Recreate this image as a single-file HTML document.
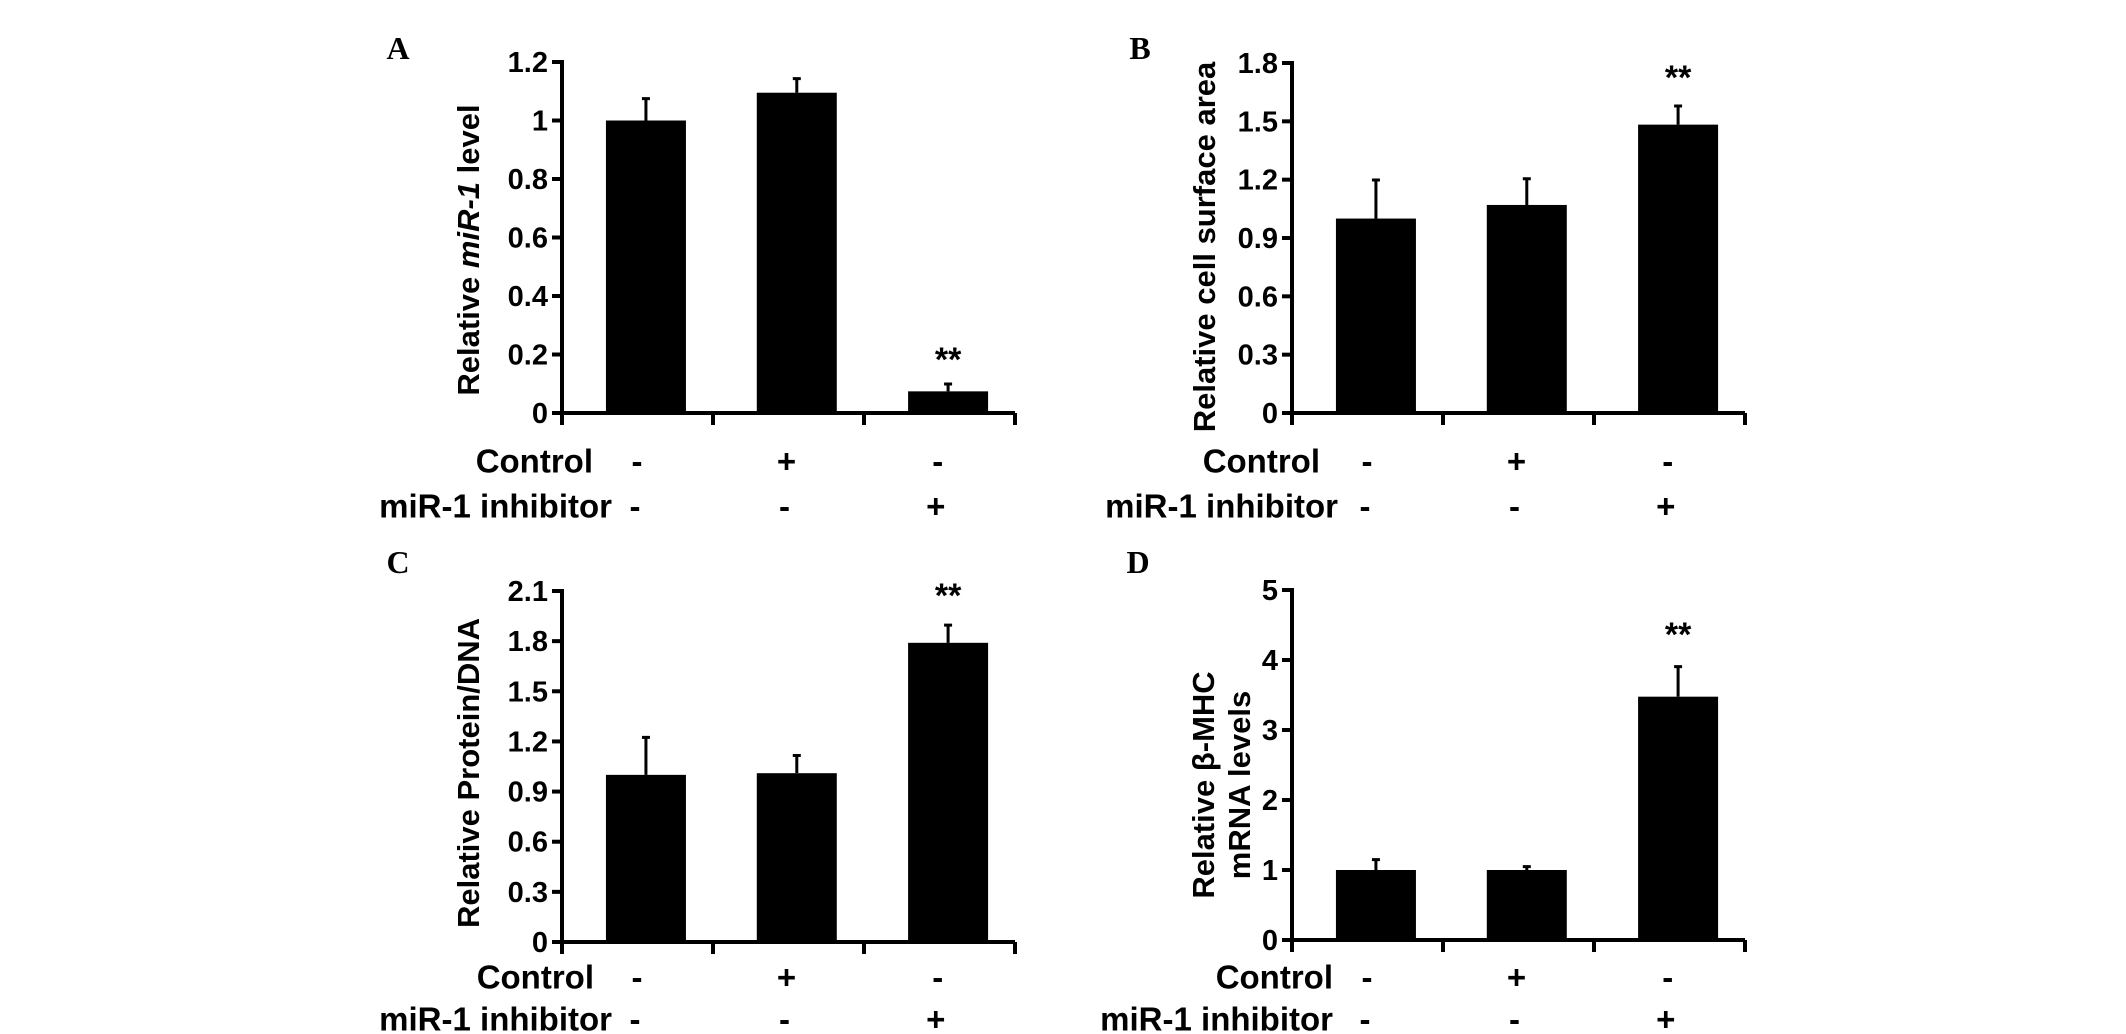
<!DOCTYPE html>
<html><head><meta charset="utf-8"><style>
html,body{margin:0;padding:0;background:#fff;}
svg{display:block;}
text{font-family:"Liberation Sans",Arial,sans-serif;font-weight:bold;fill:#000;}
.pl{font-family:"Liberation Serif",serif;font-size:32px;}
</style></head><body>
<svg id="fig" width="2126" height="1034" viewBox="0 0 2126 1034"></svg>
<script>
const categories = ["Control only", "Control +", "miR-1 inhibitor +"];
const controlSigns = ["-", "+", "-"];
const inhibitorSigns = ["-", "-", "+"];
const valuesA = [1.0, 1.095, 0.074];
const errorsA = [0.075, 0.048, 0.025];
const ticksA = [0, 0.2, 0.4, 0.6, 0.8, 1, 1.2];
const tickLabelsA = ["0", "0.2", "0.4", "0.6", "0.8", "1", "1.2"];
const valuesB = [1.0, 1.07, 1.483];
const errorsB = [0.198, 0.135, 0.096];
const ticksB = [0, 0.3, 0.6, 0.9, 1.2, 1.5, 1.8];
const tickLabelsB = ["0", "0.3", "0.6", "0.9", "1.2", "1.5", "1.8"];
const valuesC = [1.0, 1.01, 1.79];
const errorsC = [0.224, 0.106, 0.106];
const ticksC = [0, 0.3, 0.6, 0.9, 1.2, 1.5, 1.8, 2.1];
const tickLabelsC = ["0", "0.3", "0.6", "0.9", "1.2", "1.5", "1.8", "2.1"];
const valuesD = [1.0, 1.0, 3.476];
const errorsD = [0.148, 0.048, 0.43];
const ticksD = [0, 1, 2, 3, 4, 5];
const tickLabelsD = ["0", "1", "2", "3", "4", "5"];
const sigFlags = [[false,false,true],[false,false,true],[false,false,true],[false,false,true]];

const NS = "http://www.w3.org/2000/svg";
const svg = document.getElementById("fig");
function mk(tag, attrs, parent, txt){
  const e = document.createElementNS(NS, tag);
  for (const k in attrs) e.setAttribute(k, attrs[k]);
  if (txt !== undefined) e.textContent = txt;
  (parent || svg).appendChild(e);
  return e;
}

function panel(p){
  const g = mk("g", {});
  
  
  const span = 453;
  const yMax = p.ticks[p.ticks.length-1];
  const yScale = v => p.y0 - (v / yMax) * (p.y0 - p.yTop);
  const xScale = f => p.ax + f * span;
  const pl = mk("text", {x: p.lx, y: p.ly, class: "pl", "dominant-baseline": "central", "text-anchor": "middle"}, g, p.id);
  
  
  const starts = [0.097, 0.43, 0.764];
  const bw = 80;
  p.values.forEach((v, i) => {
    const x = xScale(starts[i]);
    const y = yScale(v);
    const r = mk("rect", {x: x, y: y, width: bw, height: p.y0 - y, fill: "#000"}, g);
    
    
    const cx = x + bw/2;
    const ye = yScale(v + p.errors[i]);
    const el = mk("path", {d: `M${cx},${y} V${ye} M${cx-4},${ye} H${cx+4}`, stroke: "#000", "stroke-width": 3, fill: "none"}, g);
    
    
    if (p.sig[i]) {
      const s = mk("text", {x: cx, y: p.sigY, "text-anchor": "middle", "dominant-baseline": "central", "font-size": 34}, g, "**");
      
      
    }
  });
  const ya = mk("line", {x1: p.ax, y1: p.yTop - 2, x2: p.ax, y2: p.y0 + 12, stroke: "#000", "stroke-width": 4}, g);
  
  
  const xa = mk("line", {x1: p.ax - 10, y1: p.y0, x2: p.ax + span, y2: p.y0, stroke: "#000", "stroke-width": 4}, g);
  
  
  [1/3, 2/3, 1].forEach(f => {
    const t = mk("line", {x1: xScale(f), y1: p.y0, x2: xScale(f), y2: p.y0 + 12, stroke: "#000", "stroke-width": 4}, g);
    
    
  });
  p.ticks.forEach((t, i) => {
    const y = yScale(t);
    const tl = mk("line", {x1: p.ax - 10, y1: y, x2: p.ax, y2: y, stroke: "#000", "stroke-width": 4}, g);
    
    
    const lb = mk("text", {x: p.ax - 14, y: y + 1, "text-anchor": "end", "dominant-baseline": "central", "font-size": 29}, g, p.tickLabels[i]);
    
    
  });
  p.titles.forEach(tt => {
    const t = mk("text", {transform: `translate(${tt.x},${tt.y}) rotate(-90)`, "text-anchor": "middle", "dominant-baseline": "central", "font-size": 31}, g);
    
    
    tt.parts.forEach(pt => {
      mk("tspan", pt[1] ? {"font-style": "italic"} : {}, t, pt[0]);
    });
  });
  const c1 = mk("text", {x: p.textEnd, y: p.row1, "text-anchor": "end", "dominant-baseline": "central", "font-size": 33}, g, "Control");
  
  
  const c2 = mk("text", {x: p.textEnd2, y: p.row2, "text-anchor": "end", "dominant-baseline": "central", "font-size": 33}, g, "miR-1 inhibitor");
  
  
  [0.17, 0.5, 0.834].forEach((f, i) => {
    const a = mk("text", {x: xScale(f) - 2, y: p.row1, "text-anchor": "middle", "dominant-baseline": "central", "font-size": 33}, g, controlSigns[i]);
    
    
    const b = mk("text", {x: xScale(f) - 4, y: p.row2, "text-anchor": "middle", "dominant-baseline": "central", "font-size": 33}, g, inhibitorSigns[i]);
    
    
  });
}

panel({id:"A", ax:562, yTop:62, y0:413, ticks:ticksA, tickLabels:tickLabelsA, values:valuesA, errors:errorsA, sig:sigFlags[0], sigY:360,
  lx:398, ly:48, titles:[{x:468, y:250, parts:[["Relative ",false],["miR-1",true],[" level",false]]}],
  row1:461, row2:506, textEnd:593, textEnd2:612});
panel({id:"B", ax:1292, yTop:63, y0:413, ticks:ticksB, tickLabels:tickLabelsB, values:valuesB, errors:errorsB, sig:sigFlags[1], sigY:78,
  lx:1140, ly:48, titles:[{x:1204, y:247, parts:[["Relative cell surface area",false]]}],
  row1:461, row2:506, textEnd:1320, textEnd2:1338});
panel({id:"C", ax:562, yTop:591, y0:942, ticks:ticksC, tickLabels:tickLabelsC, values:valuesC, errors:errorsC, sig:sigFlags[2], sigY:596,
  lx:398, ly:562, titles:[{x:468, y:773, parts:[["Relative Protein/DNA",false]]}],
  row1:977, row2:1019, textEnd:594, textEnd2:612});
panel({id:"D", ax:1292, yTop:590, y0:940, ticks:ticksD, tickLabels:tickLabelsD, values:valuesD, errors:errorsD, sig:sigFlags[3], sigY:635,
  lx:1138, ly:562, titles:[{x:1203, y:785, parts:[["Relative  β-MHC",false]]},{x:1239, y:785, parts:[["mRNA levels",false]]}],
  row1:977, row2:1019, textEnd:1333, textEnd2:1333});
</script>
</body></html>
